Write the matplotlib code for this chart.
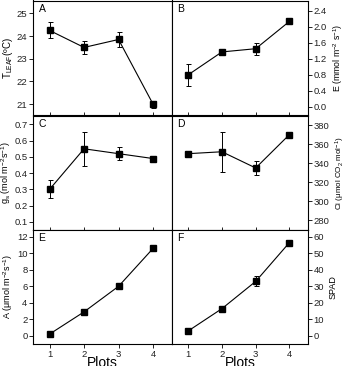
import numpy as np
import matplotlib
matplotlib.use('Agg')
import matplotlib.pyplot as plt

plt.rcParams['font.family'] = ['Liberation Sans', 'DejaVu Sans']
plt.rcParams['mathtext.fontset'] = 'custom'
plt.rcParams['mathtext.rm'] = 'Liberation Sans'
plt.rcParams['mathtext.it'] = 'Liberation Sans'

# data
plots = [1, 2, 3, 4]

t_leaf = [24.25, 23.5, 23.85, 21.0]
t_leaf_err = [0.35, 0.3, 0.35, 0.15]

e_rate = [0.8, 1.37, 1.45, 2.13]
e_rate_err = [0.27, 0.05, 0.15, 0.05]

gs = [0.30, 0.55, 0.52, 0.49]
gs_err = [0.055, 0.105, 0.04, 0.01]

ci = [350, 352, 335, 370]
ci_err = [2, 21, 7, 2]

a_rate = [0.2, 2.9, 6.0, 10.6]
a_rate_err = [0.1, 0.25, 0.25, 0.35]

spad = [3.0, 16.5, 33.0, 56.5]
spad_err = [0.5, 1.0, 3.0, 0.8]

panels = [
    ('A', t_leaf, t_leaf_err, r'T$_{\rm LEAF}$(ºC)', 7, (20.52, 25.57), [21, 22, 23, 24, 25], '%d'),
    ('B', e_rate, e_rate_err, r'E (mmol m$^{-2}$ s$^{-1}$)', 6.3, (-0.2, 2.65), [0.0, 0.4, 0.8, 1.2, 1.6, 2.0, 2.4], '%.1f'),
    ('C', gs, gs_err, r'g$_s$ (mol m$^{-2}$s$^{-1}$)', 6.5, (0.05, 0.755), [0.1, 0.2, 0.3, 0.4, 0.5, 0.6, 0.7], '%.1f'),
    ('D', ci, ci_err, r'Ci ($\mu$mol CO$_2$ mol$^{-1}$)', 5.8, (270, 390), [280, 300, 320, 340, 360, 380], '%d'),
    ('E', a_rate, a_rate_err, r'A ($\mu$mol m$^{-2}$s$^{-1}$)', 6.5, (-1.0, 12.9), [0, 2, 4, 6, 8, 10, 12], '%d'),
    ('F', spad, spad_err, 'SPAD', 6.5, (-4.9, 64.4), [0, 10, 20, 30, 40, 50, 60], '%d'),
]

fig = plt.figure(figsize=(3.47, 3.66), dpi=100)

lefts = [33 / 347, 172 / 347]
widths = [139 / 347, 136 / 347]
row_h = 114.5 / 366
bottoms = [1 - 115 / 366, 1 - 230 / 366, 1 - 344 / 366]

for i, (letter, vals, errs, label, lsize, ylim, yticks, fmt) in enumerate(panels):
    row, col = divmod(i, 2)
    ax = fig.add_axes([lefts[col], bottoms[row], widths[col], row_h])
    ax.errorbar(plots, vals, yerr=errs, color='black', lw=0.8, marker='s',
                markersize=4.5, capsize=1.8, elinewidth=0.7, capthick=0.7)
    ax.set_xlim(0.52, 4.55)
    ax.set_ylim(*ylim)
    ax.set_yticks(yticks)
    ax.set_yticklabels([fmt % t for t in yticks])
    ax.set_xticks(plots)
    for s in ax.spines.values():
        s.set_linewidth(0.8)
    ax.tick_params(labelsize=6.8, width=0.7, length=3, pad=1, colors='#222222')
    if row < 2:
        ax.tick_params(axis='x', direction='inout', length=5, labelbottom=False)
    else:
        ax.set_xticklabels([str(p) for p in plots])
        ax.set_xlabel('Plots', fontsize=10, labelpad=-1.5)
    if col == 1:
        ax.yaxis.tick_right()
        ax.yaxis.set_label_position('right')
        ax.set_ylabel(label, fontsize=lsize, labelpad=3)
    else:
        ax.set_ylabel(label, fontsize=lsize, labelpad=1)
    ax.text(0.04, 0.97, letter, transform=ax.transAxes, fontsize=7.5,
            va='top', ha='left')

fig.savefig('out.png', dpi=100)
